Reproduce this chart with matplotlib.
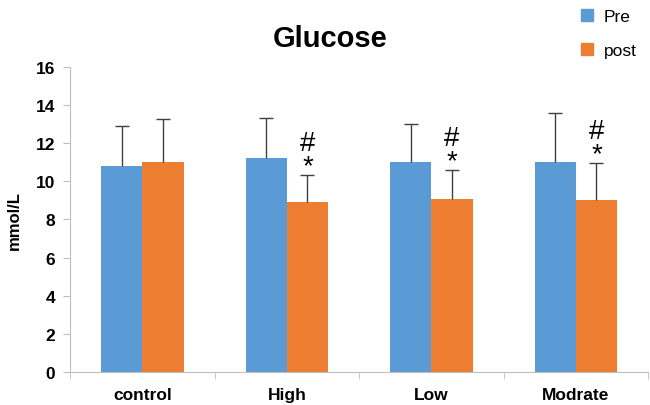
import numpy as np
import matplotlib
matplotlib.use("Agg")
import matplotlib.pyplot as plt
from matplotlib.patches import Patch

plt.rcParams['font.family'] = ['Liberation Sans', 'DejaVu Sans']

groups = ['control', 'High', 'Low', 'Modrate']
pre_mean = [10.8, 11.2, 11.0, 11.0]
pre_err = [2.1, 2.1, 2.0, 2.6]
post_mean = [11.0, 8.9, 9.05, 9.0]
post_err = [2.25, 1.45, 1.55, 1.95]
post_sig = [False, True, True, True]

blue = '#5b9bd5'
orange = '#ed7d31'

fig = plt.figure(figsize=(6.5, 4.06), dpi=100)
ax = fig.add_axes([0.108, 0.081, 0.889, 0.752])

x = np.arange(len(groups))
w = 0.285


def bars_with_upper_err(xs, mean, err, color):
    ax.bar(xs, mean, w, color=color, zorder=2)
    tops = np.array(mean) + np.array(err)
    ax.vlines(xs, mean, tops, color='#404040', lw=1, zorder=3)
    ax.plot(xs, tops, ls='none', marker='_', ms=10, mew=1, color='#404040', zorder=3)


bars_with_upper_err(x - w/2, pre_mean, pre_err, blue)
bars_with_upper_err(x + w/2, post_mean, post_err, orange)

# significance marks above the post error bars
for i, sig in enumerate(post_sig):
    if not sig:
        continue
    top = post_mean[i] + post_err[i]
    ax.annotate('#\n*', (x[i] + w/2, top), xytext=(0, -3), textcoords='offset points',
                ha='center', va='bottom', ma='center', fontsize=20, linespacing=0.85)

ax.set_xlim(-0.5, 3.5)
ax.set_ylim(0, 16)
ax.set_yticks(range(0, 17, 2))
ax.set_xticks(x)
ax.set_xticklabels(groups, fontsize=12.5, fontweight='bold')
ax.set_xticks(np.arange(-0.5, 4, 1), minor=True)
ax.tick_params(axis='x', which='major', length=0, pad=11)
ax.tick_params(axis='x', which='minor', length=5, color='#bfbfbf')
ax.tick_params(axis='y', length=5, color='#bfbfbf', labelsize=12.5, pad=6)
for lab in ax.get_yticklabels():
    lab.set_fontweight('bold')
for s in ['top', 'right']:
    ax.spines[s].set_visible(False)
for s in ['left', 'bottom']:
    ax.spines[s].set_color('#bfbfbf')

ax.set_ylabel('mmol/L', fontsize=12, fontweight='bold', labelpad=10)
fig.text(0.508, 0.905, 'Glucose', ha='center', va='center', fontsize=21, fontweight='bold')

handles = [Patch(color=blue), Patch(color=orange)]
fig.legend(handles, ['Pre', 'post'], loc='upper left', bbox_to_anchor=(0.87, 1.015),
           frameon=False, fontsize=12.5, handlelength=0.7, handleheight=0.7,
           labelspacing=1.1, handletextpad=0.6)

fig.savefig('out.png', dpi=100)
